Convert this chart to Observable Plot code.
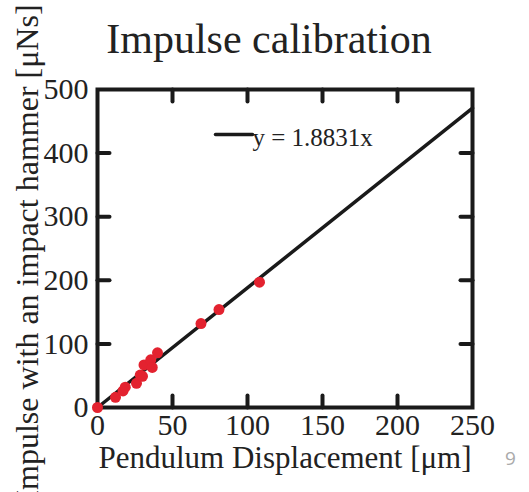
<!DOCTYPE html>
<html>
<head>
<meta charset="utf-8">
<script src="https://cdn.jsdelivr.net/npm/d3@7"></script>
<script src="https://cdn.jsdelivr.net/npm/@observablehq/plot@0.6"></script>
<style>
  html, body { margin: 0; padding: 0; background: #fff; }
  #chart svg { display: block; }
</style>
</head>
<body>
<div id="chart"></div>
<script>
// ---- data ----
const displacement = [0, 12, 17, 18.5, 26, 28.5, 30, 31, 35.5, 36.5, 40, 69, 81, 108];
const impulse      = [0, 16, 26, 32, 38, 51, 49, 67, 75, 63, 86, 132, 154, 197];
const slope = 1.8831;
const xTicks = [0, 50, 100, 150, 200, 250];
const yTicks = [0, 100, 200, 300, 400, 500];
const titleText = "Impulse calibration";
const xLabel = "Pendulum Displacement [μm]";
const yLabel = "Impulse with an impact hammer [μNs]";
const legendText = "y = 1.8831x";
const pageNumber = "9";

const points = displacement.map((x, i) => ({x, y: impulse[i]}));
const fit = [0, 250].map(x => ({x, y: slope * x}));

const tickShape = {draw(context, l) { context.moveTo(0, 0); context.lineTo(0, -l); }};
const serif = "Liberation Serif, Times New Roman, serif";

const chart = Plot.plot({
  width: 529,
  height: 492,
  marginLeft: 97,
  marginRight: 57,
  marginTop: 89,
  marginBottom: 85,
  style: {fontFamily: serif, color: "#222", background: "#fff", overflow: "visible"},
  x: {domain: [0, 250]},
  y: {domain: [0, 500]},
  marks: [
    Plot.frame({stroke: "#1a1a1a", strokeWidth: 4}),
    // inward ticks on all four sides
    Plot.vector(xTicks.slice(1, -1), {x: d => d, y: 0, rotate: 0, length: 12, anchor: "start", shape: tickShape, stroke: "#1a1a1a", strokeWidth: 4}),
    Plot.vector(xTicks.slice(1, -1), {x: d => d, y: 500, rotate: 180, length: 12, anchor: "start", shape: tickShape, stroke: "#1a1a1a", strokeWidth: 4}),
    Plot.vector(yTicks.slice(1, -1), {x: 0, y: d => d, rotate: 90, length: 12, anchor: "start", shape: tickShape, stroke: "#1a1a1a", strokeWidth: 4}),
    Plot.vector(yTicks.slice(1, -1), {x: 250, y: d => d, rotate: -90, length: 12, anchor: "start", shape: tickShape, stroke: "#1a1a1a", strokeWidth: 4}),
    // tick labels
    Plot.axisX({ticks: xTicks, tickSize: 0, tickPadding: 6, fontSize: 30, label: null, fill: "#222"}),
    Plot.axisY({ticks: yTicks, tickSize: 0, tickPadding: 9, fontSize: 30, label: null, fill: "#222"}),
    // fit line
    Plot.line(fit, {x: "x", y: "y", stroke: "#1a1a1a", strokeWidth: 3.5}),
    // data points
    Plot.dot(points, {x: "x", y: "y", r: 5.5, fill: "#e3222f", stroke: null}),
    // legend
    Plot.vector([legendText], {frameAnchor: "top-left", dx: 118, dy: 45, rotate: 90, length: 37, anchor: "start", shape: tickShape, stroke: "#1a1a1a", strokeWidth: 3.5}),
    Plot.text([legendText], {frameAnchor: "top-left", text: d => d, dx: 155, dy: 48, textAnchor: "start", lineAnchor: "middle", fontSize: 25, fill: "#222"}),
    // axis labels
    Plot.text([xLabel], {frameAnchor: "bottom", text: d => d, dy: 51, textAnchor: "middle", lineAnchor: "middle", fontSize: 31, fill: "#222"}),
    Plot.text([yLabel], {frameAnchor: "left", text: d => d, rotate: -90, dx: -70, dy: 4, textAnchor: "middle", lineAnchor: "middle", fontSize: 32, fill: "#222"}),
    // title
    Plot.text([titleText], {frameAnchor: "top", text: d => d, dx: -16, dy: -50, textAnchor: "middle", lineAnchor: "middle", fontSize: 42, fill: "#222"}),
    // page number
    Plot.text([pageNumber], {frameAnchor: "bottom-right", text: d => d, dx: 38, dy: 51, textAnchor: "middle", lineAnchor: "middle", fontSize: 19, fill: "#aaa", fontFamily: "Open Sans, sans-serif"})
  ]
});
document.getElementById("chart").appendChild(chart);
</script>
</body>
</html>
